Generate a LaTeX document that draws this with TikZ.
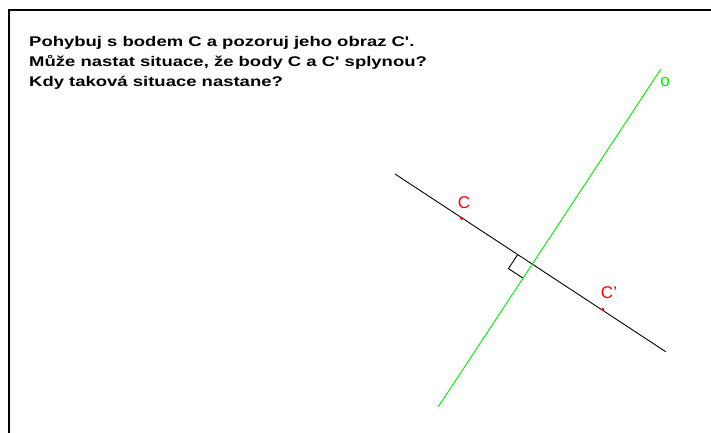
\documentclass[tikz,border=0pt]{standalone}
\usepackage{fontspec}
\setmainfont{Liberation Sans}
\newfontfamily\taskfont[FakeStretch=1.32]{Liberation Sans}
\usetikzlibrary{calc}
\definecolor{osa}{RGB}{0,235,0}
\definecolor{bod}{RGB}{255,0,0}

\begin{document}
\begin{tikzpicture}[
    x=1pt, y=-1pt,
    task/.style={align=left, anchor=north west, inner sep=0pt, font=\taskfont\fontsize{14}{20}\selectfont\bfseries},
    lbl/.style={inner sep=0pt, font=\fontsize{17}{19}\selectfont},
    dot/.style={fill=bod, circle, inner sep=0pt, minimum size=3.4pt},
    line/.style={line width=0.9pt}
  ]
    \useasboundingbox (0,0) rectangle (711,432);
    \draw[line width=2pt] (9,433) -- (9,10) -- (712,10);
    \node[task] (text) at (29,36.5) {Pohybuj s bodem C a pozoruj jeho obraz C'.\\Může nastat situace, že body C a C' splynou?\\Kdy taková situace nastane?};
    % osa a kolmice
    \coordinate (k1) at (395,174);
    \coordinate (k2) at (665.7,351.7);
    \coordinate (o1) at (438.3,406.7);
    \coordinate (o2) at (660.7,69.3);
    \coordinate (s) at (532,263.7);
    \draw[line] (k1) -- (k2);
    \draw[line, osa] (o1) -- (o2);
    \draw[line] ($(s)!17pt!(k1)$) -- ($(s)!17pt!(k1) + (s)!17pt!(o1) - (s)$) -- ($(s)!17pt!(o1)$);
    \node[dot] (c) at (461.7,218.3) {};
    \node[dot] (c2) at (602.7,309.3) {};
    \node[lbl, text=bod] (lc) at (464,203) {C};
    \node[lbl, text=bod] (lc2) at (609,293) {C'};
    \node[lbl, text=osa] (lo) at (665,82) {o};
  \end{tikzpicture}
\end{document}
